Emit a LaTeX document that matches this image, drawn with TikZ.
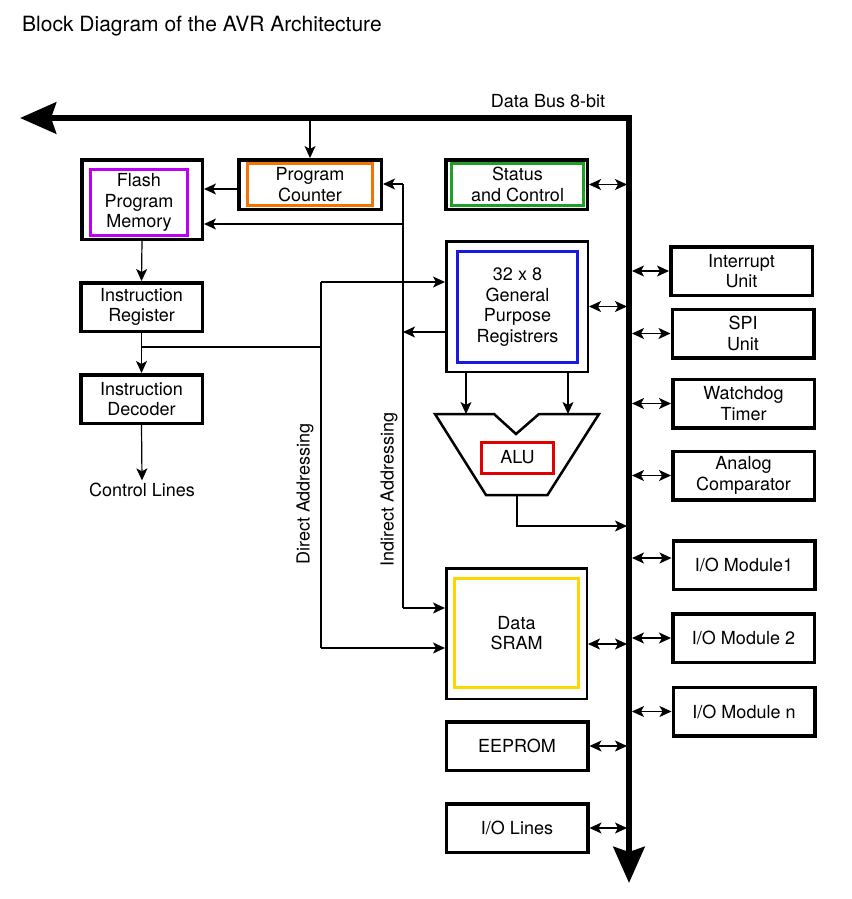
\documentclass[tikz,border=0pt]{standalone}
\usepackage{fontspec}
\setmainfont{TeX Gyre Heros}
\usepackage{xcolor}
\usetikzlibrary{arrows.meta}
\definecolor{pcorange}{RGB}{245,115,0}
\definecolor{flashviolet}{RGB}{190,0,240}
\definecolor{srgreen}{RGB}{30,160,40}
\definecolor{regblue}{RGB}{25,25,225}
\definecolor{alured}{RGB}{225,0,0}
\definecolor{ramyellow}{RGB}{255,215,0}
\tikzset{
  avrblock/.style={draw, line width=3.5pt, minimum width=141.5pt, minimum height=48.5pt, inner sep=0pt, align=center},
  corebox/.style={draw=#1, line width=3pt, inner sep=0pt, align=center},
  wire/.style={line width=1.2pt},
  link/.style={wire, -{Stealth[length=12pt,width=11pt,inset=3pt]}},
  dlink/.style={wire, {Stealth[length=12pt,width=11pt,inset=3pt]}-{Stealth[length=12pt,width=11pt,inset=3pt]}},
  databus/.style={line width=6.5pt, {Stealth[length=36pt,width=31pt,inset=5pt]}-{Stealth[length=36pt,width=31pt,inset=5pt]}},
}

\begin{document}
\begin{tikzpicture}[x=1pt, y=-1pt, font=\fontsize{18}{20.5}\selectfont]

            \useasboundingbox (0,0) rectangle (851,899);

            \node[anchor=base west, inner sep=0pt, font=\fontsize{21}{24}\selectfont] (title) at (22,32) {Block Diagram of the AVR Architecture};

            \coordinate (busW) at (20,118);
            \coordinate (busC) at (629,118);
            \coordinate (busS) at (629,883);
            \coordinate (busL) at (627,118);
            \coordinate (busR) at (632,118);
            \draw[databus] (busW) -| (busS);
            \node[anchor=base] (buslabel) at (548,107) {Data Bus 8-bit};

            \node[avrblock, minimum width=120.5pt, minimum height=79.5pt] (flash) at (142,199.5) {};
            \node[corebox=flashviolet, minimum width=97pt, minimum height=66pt] (flashin) at (139,202.5) {Flash\\Program\\Memory};

            \node[avrblock, minimum width=142.5pt, minimum height=49.5pt] (pc) at (310,184.5) {};
            \node[corebox=pcorange, minimum width=125pt, minimum height=42pt] (pcin) at (310,184.5) {Program\\Counter};

            \node[avrblock, minimum width=141.5pt, minimum height=49.5pt] (status) at (516.5,184.5) {};
            \node[corebox=srgreen, minimum width=132pt, minimum height=42pt] (statusin) at (517.5,184.5) {Status\\and Control};

            \node[avrblock, line width=2.5pt, minimum height=130.5pt] (regs) at (517,306.5) {};
            \node[corebox=regblue, minimum width=120pt, minimum height=111pt] (regsin) at (517.5,307) {32 x 8\\General\\Purpose\\Registrers};

            \node[avrblock, minimum width=121.5pt] (ir) at (141.5,307) {Instruction\\Register};
            \node[avrblock, minimum width=121.5pt] (id) at (141.5,399) {Instruction\\Decoder};
            \node[anchor=base, inner sep=2pt] (ctrl) at (142,496) {Control Lines};

            \draw[line width=2.5pt, line join=miter] (435,414) -- (494,414) -- (516,434) -- (539,414) -- (599,414) -- (547.5,495) -- (486,495) -- cycle;
            \node[corebox=alured, minimum width=72pt, minimum height=31pt] (alu) at (517.5,457.5) {ALU};
            \coordinate (aluinA) at (466,414);
            \coordinate (aluinB) at (568,414);
            \coordinate (aluout) at (517,495);
            \coordinate (aluturn) at (517,526);

            \node[avrblock, line width=2.5pt, minimum width=140.5pt, minimum height=130.5pt] (sram) at (516.5,633.5) {};
            \node[corebox=ramyellow, minimum width=124pt, minimum height=109pt] (sramin) at (516.5,633) {Data\\SRAM};

            \node[avrblock] (eeprom) at (517,746) {EEPROM};
            \node[avrblock] (iolines) at (517,828) {I/O Lines};

            \node[avrblock] (intr) at (741.5,271) {Interrupt\\Unit};
            \node[avrblock] (spi) at (743,333.5) {SPI\\Unit};
            \node[avrblock] (wdt) at (743.5,403.5) {Watchdog\\Timer};
            \node[avrblock] (acomp) at (743.5,475.5) {Analog\\Comparator};
            \node[avrblock] (iomodA) at (744,565) {I/O Module1};
            \node[avrblock] (iomodB) at (743.5,638) {I/O Module 2};
            \node[avrblock] (iomodN) at (744,711.5) {I/O Module n};

            \node[rotate=90] (dirlabel) at (305,494) {Direct Addressing};
            \node[rotate=90] (indlabel) at (389,489.5) {Indirect Addressing};

            \coordinate (dirtop) at (321,282);
            \coordinate (dirmid) at (321,347);
            \coordinate (dirbot) at (321,648);
            \coordinate (indtop) at (403,184);
            \coordinate (indflash) at (403,224);
            \coordinate (indregs) at (403,332);
            \coordinate (indbot) at (403,608);
            \coordinate (pcflash) at (237,189);

            \draw[link] (pc.north |- busC) -- (pc.north);
            \draw[link] (pcflash) -- (pcflash -| flash.east);
            \draw[link] (flash.south) -- (ir.north);
            \draw[link] (ir.south) -- (id.north);
            \draw[link] (id.south) -- (ctrl.north);

            \draw[wire] (indtop) -- (indbot);
            \draw[link] (indtop) -- (indtop -| pc.east);
            \draw[link] (indflash) -- (indflash -| flash.east);
            \draw[link] (indregs -| regs.west) -- (indregs);
            \draw[link] (indbot) -- (indbot -| sram.west);

            \draw[wire] (ir.south |- dirmid) -- (dirmid);
            \draw[wire] (dirtop) -- (dirbot);
            \draw[link] (dirtop) -- (dirtop -| regs.west);
            \draw[link] (dirbot) -- (dirbot -| sram.west);

            \draw[link] (regs.south -| aluinA) -- (aluinA);
            \draw[link] (regs.south -| aluinB) -- (aluinB);
            \draw[link] (aluout) -- (aluturn) -- (aluturn -| busL);

            \draw[dlink] (status.east) -- (status.east -| busL);
            \draw[dlink] (regs.east) -- (regs.east -| busL);
            \draw[dlink] ([yshift=-10.5pt]sram.east) -- ([yshift=-10.5pt]sram.east -| busL);
            \draw[dlink] (eeprom.east) -- (eeprom.east -| busL);
            \draw[dlink] (iolines.east) -- (iolines.east -| busL);

            \draw[dlink] (intr.west -| busR) -- (intr.west);
            \draw[dlink] (spi.west -| busR) -- (spi.west);
            \draw[dlink] (wdt.west -| busR) -- (wdt.west);
            \draw[dlink] (acomp.west -| busR) -- (acomp.west);
            \draw[dlink] ([yshift=7pt]iomodA.west -| busR) -- ([yshift=7pt]iomodA.west);
            \draw[dlink] (iomodB.west -| busR) -- (iomodB.west);
            \draw[dlink] (iomodN.west -| busR) -- (iomodN.west);

\end{tikzpicture}
\end{document}
